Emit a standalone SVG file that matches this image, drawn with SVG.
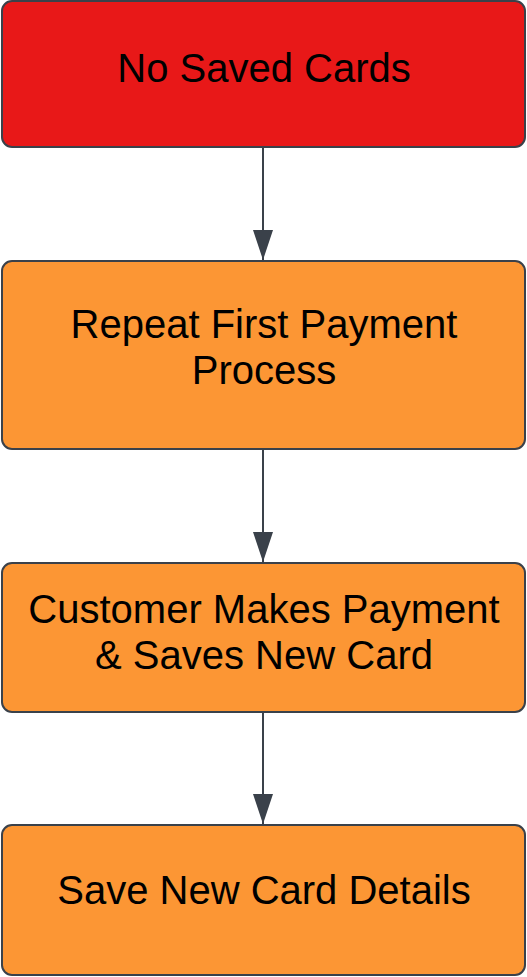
<svg xmlns="http://www.w3.org/2000/svg" width="527" height="977" viewBox="0 0 527 977">
<defs>
<style>
.box{stroke:#3a414a;stroke-width:2}
.red{fill:#e81818}
.orange{fill:#fc9634}
.lbl{font-family:"Liberation Sans",Arial,sans-serif;font-size:40px;fill:#000;text-anchor:middle}
.conn{stroke:#3a414a;stroke-width:2;fill:none}
</style>
<marker id="arr" markerUnits="userSpaceOnUse" markerWidth="30" markerHeight="20" refX="30" refY="10" orient="auto" viewBox="0 0 30 20">
<path d="M0,0 L30,10 L0,20 Z" fill="#3a414a"/>
</marker>
</defs>
<rect width="527" height="977" fill="#fff"/>
<g id="connectors">
<line class="conn" x1="263" y1="148" x2="263" y2="260" marker-end="url(#arr)"/>
<line class="conn" x1="263" y1="450" x2="263" y2="562" marker-end="url(#arr)"/>
<line class="conn" x1="263" y1="713" x2="263" y2="824" marker-end="url(#arr)"/>
</g>
<g id="node1">
<rect class="box red" x="2" y="1" width="523" height="146" rx="10"/>
<text class="lbl" x="264" y="82">No Saved Cards</text>
</g>
<g id="node2">
<rect class="box orange" x="2" y="261" width="523" height="188" rx="10"/>
<text class="lbl" x="264" y="338">Repeat First Payment</text>
<text class="lbl" x="264" y="384">Process</text>
</g>
<g id="node3">
<rect class="box orange" x="2" y="563" width="523" height="149" rx="10"/>
<text class="lbl" x="264" y="623">Customer Makes Payment</text>
<text class="lbl" x="264" y="669">&amp; Saves New Card</text>
</g>
<g id="node4">
<rect class="box orange" x="2" y="825" width="523" height="150" rx="10"/>
<text class="lbl" x="264" y="904">Save New Card Details</text>
</g>
</svg>
